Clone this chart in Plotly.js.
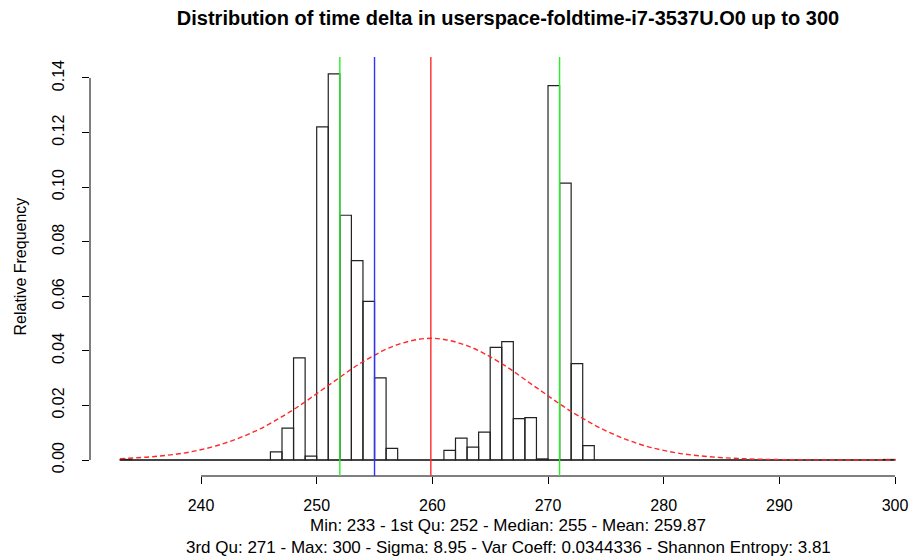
<!DOCTYPE html>
<html>
<head>
<meta charset="utf-8">
<script src="https://cdn.plot.ly/plotly-3.0.1.min.js"></script>
<style>html,body{margin:0;padding:0;background:#fff;}#chart{width:912px;height:558px;}</style>
</head>
<body>
<div id="chart"></div>
<script>
// Histogram bin breaks (width 1) and relative frequencies per bin
const breaks = [233,234,235,236,237,238,239,240,241,242,243,244,245,246,247,248,249,250,251,252,253,254,255,256,257,258,259,260,261,262,263,264,265,266,267,268,269,270,271,272,273,274,275,276,277,278,279,280,281,282,283,284,285,286,287,288,289,290,291,292,293,294,295,296,297,298,299,300];
const relFreq = [0.0002,0,0,0,0,0,0,0,0,0,0,0,0,
  0.0030,0.0117,0.0374,0.0014,0.1221,0.1415,0.0897,0.0731,0.0581,0.0301,0.0043,
  0,0,0,0,
  0.0035,0.0080,0.0047,0.0102,0.0413,0.0434,0.0152,0.0155,0.0004,0.1372,0.1015,0.0353,0.0053,
  0,0,0,0,0,0,0,0,0,0,0,0,0,0,0,0,0,0,0,0,0,0,0,0,0,0.0002];

// Normal density curve
const curveX = [233,236,239,242,245,248,251,254,257,260,263,266,269,272,275,278,281,284,287,290,293,296,300];
const curveY = [0.0005,0.0013,0.0029,0.0061,0.0112,0.0185,0.0273,0.0360,0.0423,0.0446,0.0419,0.0353,0.0265,0.0178,0.0107,0.0057,0.0027,0.0012,0.00045,0.00015,0.00005,0.00001,0];

// Summary statistic lines
const statNames = ['1st Qu','Median','Mean','3rd Qu'];
const statValues = [252, 255, 259.87, 271];
const statColors = ['rgb(40,240,40)','rgb(50,50,255)','rgb(255,40,40)','rgb(40,240,40)'];

// Tick labels
const xTicks = [240,250,260,270,280,290,300];
const yTicks = [0,0.02,0.04,0.06,0.08,0.10,0.12,0.14];

const titleText = 'Distribution of time delta in userspace-foldtime-i7-3537U.O0 up to 300';
const sub1 = 'Min: 233 - 1st Qu: 252 - Median: 255 - Mean: 259.87';
const sub2 = '3rd Qu: 271 - Max: 300 - Sigma: 8.95 - Var Coeff: 0.0344336 - Shannon Entropy: 3.81';

const centers = relFreq.map((v,i)=> (breaks[i]+breaks[i+1])/2);
const widths = relFreq.map((v,i)=> breaks[i+1]-breaks[i]);

const FONT = 'Liberation Sans, Arial, Helvetica, sans-serif';

const traces = [
  {type:'bar', x:centers, y:relFreq, width:widths,
   marker:{color:'rgba(0,0,0,0)', line:{color:'#222', width:1.2}},
   hoverinfo:'x+y', showlegend:false},
  {type:'scatter', mode:'lines', x:curveX, y:curveY,
   line:{color:'rgb(255,40,40)', width:1.4, dash:'5px,3px', shape:'spline'},
   showlegend:false}
];

const shapes = [
  // histogram baseline
  {type:'line', xref:'x', yref:'y', x0:breaks[0], x1:breaks[breaks.length-1], y0:0, y1:0,
   line:{color:'#666', width:1.8}, layer:'below'},
  // x axis line
  {type:'line', xref:'x', yref:'paper', x0:xTicks[0], x1:xTicks[xTicks.length-1], y0:0, y1:0,
   line:{color:'#000', width:1}},
  // y axis line
  {type:'line', xref:'paper', yref:'y', x0:0, x1:0, y0:yTicks[0], y1:yTicks[yTicks.length-1],
   line:{color:'#000', width:1}}
];
statValues.forEach((v,i)=>{
  shapes.push({type:'line', xref:'x', yref:'paper', x0:v, x1:v, y0:0, y1:1,
    line:{color:statColors[i], width:1.4}});
});

const layout = {
  width:912, height:558,
  margin:{l:90, r:0, t:57, b:82},
  paper_bgcolor:'#fff', plot_bgcolor:'#fff',
  font:{family:FONT, size:16, color:'#000'},
  bargap:0,
  showlegend:false,
  title:{text:titleText, font:{family:FONT, size:20, weight:'bold', color:'#000'},
         xref:'container', x:508/912, xanchor:'center', yref:'container', y:1-18/558, yanchor:'middle'},
  xaxis:{range:[230.4, 301.47], tickvals:xTicks, ticktext:xTicks.map(String),
         ticks:'outside', ticklen:7, tickwidth:1, tickcolor:'#000',
         showline:false, showgrid:false, zeroline:false, ticklabelstandoff:8,
         tickfont:{family:FONT, size:16}},
  yaxis:{range:[-0.00586, 0.14769], tickvals:yTicks, ticktext:yTicks.map(v=>v.toFixed(2)),
         ticks:'outside', ticklen:7, tickwidth:1, tickcolor:'#000', tickangle:-90,
         showline:false, showgrid:false, zeroline:false, ticklabelstandoff:12,
         tickfont:{family:FONT, size:16}},
  shapes:shapes,
  annotations:[
    {text:'Relative Frequency', xref:'paper', yref:'paper', x:(20-90)/822, y:0.5,
     xanchor:'center', yanchor:'middle', textangle:-90, showarrow:false,
     font:{family:FONT, size:16}},
    {text:sub1, xref:'paper', yref:'paper', x:(508-90)/822, y:(476-525)/419,
     xanchor:'center', yanchor:'middle', showarrow:false, font:{family:FONT, size:17}},
    {text:sub2, xref:'paper', yref:'paper', x:(508-90)/822, y:(476-547)/419,
     xanchor:'center', yanchor:'middle', showarrow:false, font:{family:FONT, size:17}}
  ]
};

Plotly.newPlot('chart', traces, layout, {displayModeBar:false, staticPlot:true});
</script>
</body>
</html>
